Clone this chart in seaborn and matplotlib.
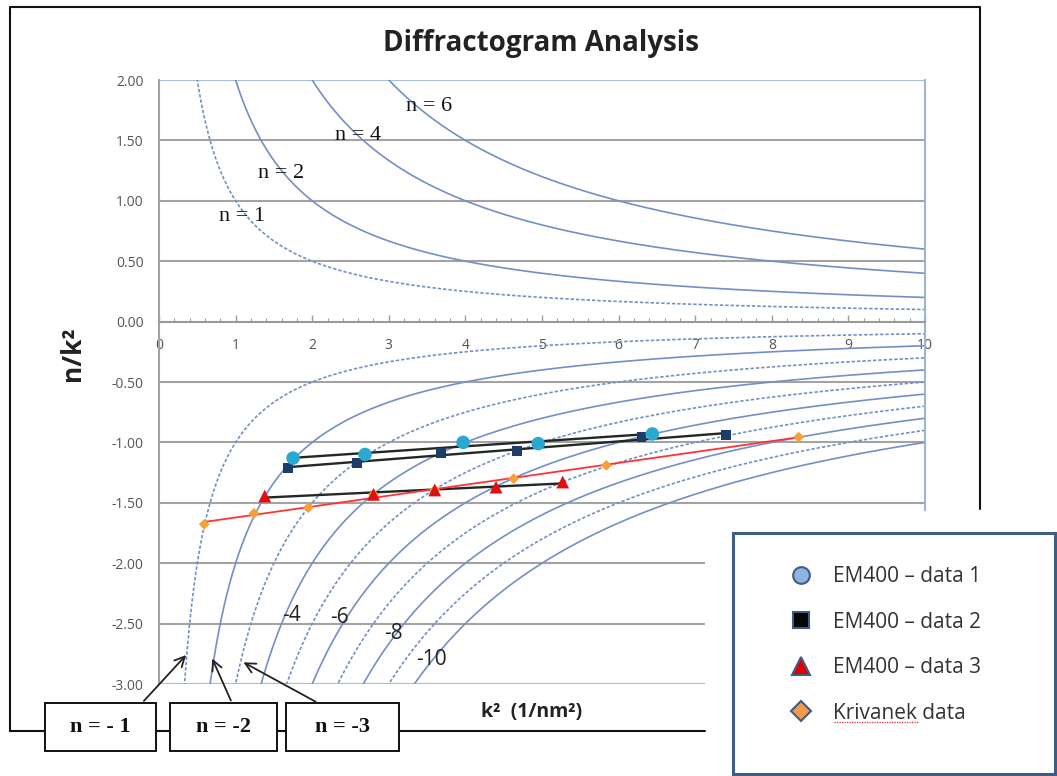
import numpy as np
import pandas as pd
import matplotlib
matplotlib.use("Agg")
import matplotlib.pyplot as plt
from matplotlib.lines import Line2D
from matplotlib.patches import Rectangle
import seaborn as sns

# ---------------- data ----------------
n_positive = [1, 2, 4, 6]
n_negative = [-1, -2, -3, -4, -5, -6, -7, -8, -9, -10]

data1_x = [1.75, 2.69, 3.97, 4.95, 6.44]
data1_y = [-1.13, -1.10, -1.00, -1.01, -0.93]

data2_x = [1.68, 2.58, 3.68, 4.67, 6.30, 7.40]
data2_y = [-1.21, -1.17, -1.085, -1.07, -0.953, -0.942]

data3_x = [1.38, 2.80, 3.60, 4.40, 5.27]
data3_y = [-1.444, -1.43, -1.394, -1.37, -1.328]

kriv_x = [0.59, 1.24, 1.95, 2.80, 3.60, 4.63, 5.84, 8.35]
kriv_y = [-1.678, -1.587, -1.54, -1.43, -1.394, -1.30, -1.19, -0.956]

y_ticks = [2.0, 1.5, 1.0, 0.5, 0.0, -0.5, -1.0, -1.5, -2.0, -2.5, -3.0]
x_ticks = list(range(0, 11))

legend_labels = ["EM400 \u2013 data 1", "EM400 \u2013 data 2", "EM400 \u2013 data 3", "Krivanek data"]

# ---------------- setup ----------------
W, H = 1057, 776
sns.set_theme(style="white")
plt.rcParams["font.family"] = ["Open Sans", "DejaVu Sans"]

fig = plt.figure(figsize=(W / 100, H / 100), dpi=100)
fig.patch.set_facecolor("white")

def fx(px):
    return px / W

def fy(py):
    return 1 - py / H

ax_l, ax_r, ax_t, ax_b = 159, 925, 80, 684
ax = fig.add_axes([fx(ax_l), fy(ax_b), (ax_r - ax_l) / W, (ax_b - ax_t) / H])
ax.set_xlim(0, 10)
ax.set_ylim(-3, 2)

curve_col = "#7390c4"
xs = np.linspace(0.02, 10, 3000)

for n in n_positive + n_negative:
    ls = (0, (2.0, 1.2)) if abs(n) % 2 == 1 else "-"
    sns.lineplot(x=xs, y=n / xs, ax=ax, color=curve_col, lw=1.2,
                 linestyle=ls, zorder=2)

# horizontal grid
for yv in y_ticks:
    if yv in (2.0, -3.0):
        ax.axhline(yv, color="#a9bedb", lw=1.6, zorder=1)
    elif yv != 0.0:
        ax.axhline(yv, color="#a3a3a3", lw=1.5, zorder=1)

# fit lines
sns.regplot(x=data1_x, y=data1_y, ax=ax, scatter=False, ci=None,
            line_kws=dict(color="#222822", lw=1.7, zorder=3))
sns.regplot(x=data2_x, y=data2_y, ax=ax, scatter=False, ci=None,
            line_kws=dict(color="#222822", lw=1.7, zorder=3))
sns.regplot(x=data3_x, y=data3_y, ax=ax, scatter=False, ci=None,
            line_kws=dict(color="#222822", lw=1.7, zorder=3))
sns.regplot(x=kriv_x, y=kriv_y, ax=ax, scatter=False, ci=None,
            line_kws=dict(color="#ff3333", lw=1.3, zorder=3))

# markers
sns.scatterplot(x=kriv_x, y=kriv_y, ax=ax, marker="D", s=30,
                color="#f7a035", edgecolor="none", zorder=4)
sns.scatterplot(x=data3_x, y=data3_y, ax=ax, marker="^", s=85,
                color="#e01010", edgecolor="none", zorder=5)
sns.scatterplot(x=data2_x, y=data2_y, ax=ax, marker="s", s=50,
                color="#1d3c68", edgecolor="none", zorder=5)
sns.scatterplot(x=data1_x, y=data1_y, ax=ax, marker="o", s=95,
                color="#2aa8d0", edgecolor="none", zorder=5)

# axes styling
ax.spines["bottom"].set_position(("data", 0))
ax.spines["bottom"].set_color("#9a9a9a")
ax.spines["bottom"].set_linewidth(1.5)
ax.spines["left"].set_color("#a3a3a3")
ax.spines["left"].set_linewidth(1.5)
ax.spines["right"].set_color("#9db4d6")
ax.spines["right"].set_linewidth(1.5)
ax.spines["top"].set_visible(False)
ax.set_xticks(x_ticks)
ax.set_xticks(np.arange(0, 10.01, 0.2), minor=True)
ax.set_yticks(y_ticks)
ax.set_yticklabels([f"{v:.2f}" for v in y_ticks])
ax.tick_params(axis="x", which="major", direction="in", length=5, width=1,
               color="#9a9a9a", pad=12, labelsize=10, labelcolor="#555555",
               bottom=True)
ax.tick_params(axis="x", which="minor", direction="in", length=3, width=0.8,
               color="#9a9a9a", bottom=True)
ax.tick_params(axis="y", length=0, pad=11, labelsize=10, labelcolor="#555555")
ax.set_xlabel("")
ax.set_ylabel("")
ax.grid(False)

# curve annotations
serif = ["Liberation Serif", "DejaVu Serif"]
for txt, x, y in [("n = 1", 1.08, 0.87), ("n = 2", 1.60, 1.23),
                  ("n = 4", 2.60, 1.54), ("n = 6", 3.52, 1.78)]:
    ax.text(x, y, txt, family=serif, fontsize=16, ha="center", va="center",
            color="#111111", zorder=6)
for txt, x, y in [("-4", 1.73, -2.43), ("-6", 2.35, -2.45),
                  ("-8", 3.06, -2.58), ("-10", 3.56, -2.80)]:
    ax.text(x, y, txt, fontsize=15, ha="center", va="center",
            color="#222222", zorder=6)

# titles
fig.text(fx(541), fy(43), "Diffractogram Analysis", ha="center", va="center",
         fontsize=20, fontweight="bold", color="#222222")
fig.text(fx(72), fy(354), "n/k\u00b2", ha="center", va="center", rotation=90,
         fontsize=19, fontweight="bold", color="#222222")
fig.text(fx(532), fy(712), "k\u00b2  (1/nm\u00b2)", ha="center", va="center",
         fontsize=14, fontweight="bold", color="#222222")

# overlay for frame, boxes, arrows, legend box
ov = fig.add_axes([0, 0, 1, 1], zorder=3)
ov.set_xlim(0, W)
ov.set_ylim(H, 0)
ov.axis("off")
ov.patch.set_alpha(0)

ov.add_patch(Rectangle((705, 511), 360, 280, facecolor="white",
                       edgecolor="none", zorder=1))
ov.plot([10, 10, 980, 980], [731, 7, 7, 509], color="#111111", lw=1.5, zorder=2)
ov.plot([10, 45], [731, 731], color="#111111", lw=1.5, zorder=2)
ov.plot([156, 170], [731, 731], color="#111111", lw=1.5, zorder=2)
ov.plot([277, 286], [731, 731], color="#111111", lw=1.5, zorder=2)
ov.plot([399, 705], [731, 731], color="#111111", lw=1.5, zorder=2)

boxes = [(45, 156, "n = - 1"), (170, 277, "n = -2"), (286, 399, "n = -3")]
for x0, x1, txt in boxes:
    ov.add_patch(Rectangle((x0, 703), x1 - x0, 48, facecolor="white",
                           edgecolor="#111111", lw=1.4, zorder=3))
    ov.text((x0 + x1) / 2, 727, txt, family=serif, fontweight="bold",
            fontsize=16, ha="center", va="center", color="#111111", zorder=4)

arrows = [((142, 703), (188, 653)), ((232, 703), (211, 656)), ((318, 703), (241, 661))]
for (x0, y0), (x1, y1) in arrows:
    ov.annotate("", xy=(x1, y1), xytext=(x0, y0),
                arrowprops=dict(arrowstyle="->", color="#222222", lw=1.3,
                                mutation_scale=18), zorder=4)

ov.add_patch(Rectangle((733, 533), 322, 241, facecolor="white",
                       edgecolor="#3f5d85", lw=2.2, zorder=2))

edge = "#3f5d85"
handles = [
    Line2D([], [], ls="none", marker="o", ms=12, mfc="#8db4e2", mec=edge, mew=1.5),
    Line2D([], [], ls="none", marker="s", ms=11, mfc="#050505", mec=edge, mew=1.5),
    Line2D([], [], ls="none", marker="^", ms=13, mfc="#e00000", mec=edge, mew=1.5),
    Line2D([], [], ls="none", marker="D", ms=10, mfc="#f39a4a", mec=edge, mew=1.5),
]
leg = fig.legend(handles, legend_labels, loc="upper left",
                 bbox_to_anchor=(fx(791), fy(566)), bbox_transform=fig.transFigure,
                 frameon=False, fontsize=15, labelspacing=1.18, handlelength=1.0,
                 handletextpad=1.0, borderpad=0, borderaxespad=0)
for t in leg.get_texts():
    t.set_color("#333333")
leg.set_zorder(10)

# spell-check squiggle under "Krivanek"
ov.plot([834, 918], [722, 722], color="#e03030", lw=0.9, ls=(0, (1, 1)), zorder=5)

fig.savefig("out.png", dpi=100, facecolor="white")
